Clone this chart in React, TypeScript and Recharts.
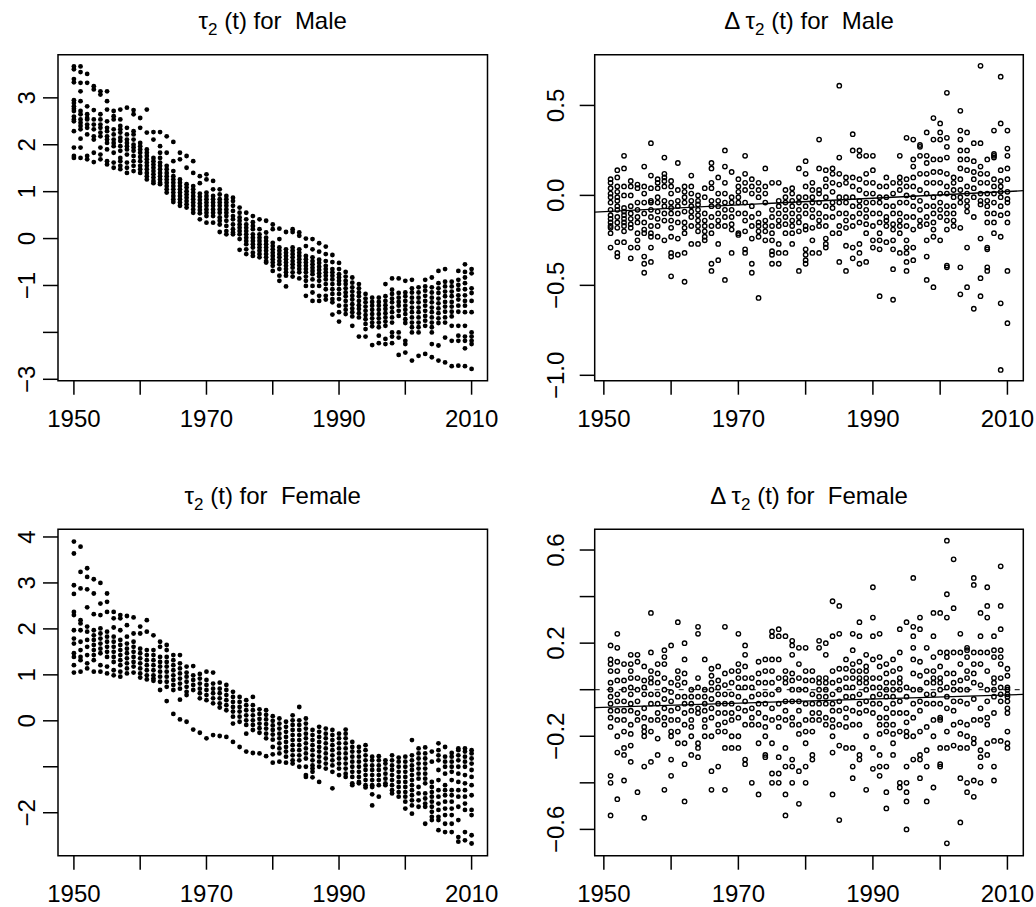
import React from 'react';
import { ScatterChart, Scatter, XAxis, YAxis, ReferenceArea, ReferenceLine } from 'recharts';

const FONT = '"Liberation Sans", Arial, Helvetica, sans-serif';
const W = 1036;
const H = 907;

const YEARS = [
  1950, 1951, 1952, 1953, 1954, 1955, 1956, 1957, 1958, 1959,
  1960, 1961, 1962, 1963, 1964, 1965, 1966, 1967, 1968, 1969,
  1970, 1971, 1972, 1973, 1974, 1975, 1976, 1977, 1978, 1979,
  1980, 1981, 1982, 1983, 1984, 1985, 1986, 1987, 1988, 1989,
  1990, 1991, 1992, 1993, 1994, 1995, 1996, 1997, 1998, 1999,
  2000, 2001, 2002, 2003, 2004, 2005, 2006, 2007, 2008, 2009, 2010,
];
const DIFF_YEARS = YEARS.slice(1);

const X_TICKS = [1950, 1960, 1970, 1980, 1990, 2000, 2010];
const X_LABELS = ['1950', '', '1970', '', '1990', '', '2010'];

const MALE_TAU_TICKS = [-3, -2, -1, 0, 1, 2, 3];
const MALE_TAU_LABELS = ['−3', '', '−1', '0', '1', '2', '3'];
const FEMALE_TAU_TICKS = [-2, -1, 0, 1, 2, 3, 4];
const FEMALE_TAU_LABELS = ['−2', '', '0', '1', '2', '3', '4'];
const MALE_DIFF_TICKS = [-1, -0.5, 0, 0.5];
const MALE_DIFF_LABELS = ['−1.0', '−0.5', '0.0', '0.5'];
const FEMALE_DIFF_TICKS = [-0.6, -0.4, -0.2, 0, 0.2, 0.4, 0.6];
const FEMALE_DIFF_LABELS = ['−0.6', '', '−0.2', '', '0.2', '', '0.6'];

// fitted trend lines (end points at the plot edges)
const TREND_X = [1948.64, 2012.36];
const MALE_TREND_Y = [-0.093, 0.026];
const FEMALE_TREND_Y = [-0.077, -0.02];

// tau_2(t), male, one row per year 1950..2010
const MALE_TAU = [
  [3.67, 3.61, 3.40, 3.33, 2.95, 2.89, 2.82, 2.77, 2.72, 2.60, 2.54, 2.50, 2.29, 1.94, 1.76, 1.72],
  [3.67, 3.55, 3.32, 3.14, 2.93, 2.72, 2.65, 2.54, 2.47, 2.40, 2.33, 2.13, 1.94, 1.72],
  [3.51, 3.32, 2.82, 2.65, 2.57, 2.54, 2.43, 2.36, 2.22, 1.76, 1.69],
  [3.25, 3.18, 2.74, 2.54, 2.43, 2.33, 2.18, 2.11, 1.83, 1.63],
  [3.14, 3.07, 2.65, 2.54, 2.43, 2.36, 2.26, 2.18, 1.94, 1.79, 1.69],
  [3.14, 2.93, 2.75, 2.50, 2.36, 2.29, 2.18, 2.11, 2.04, 1.90, 1.65, 1.58],
  [2.72, 2.61, 2.54, 2.33, 2.22, 2.11, 2.04, 1.97, 1.83, 1.62, 1.51],
  [2.75, 2.54, 2.40, 2.33, 2.26, 2.15, 2.08, 1.97, 1.87, 1.72, 1.65, 1.55, 1.48],
  [2.79, 2.36, 2.22, 2.11, 2.04, 1.97, 1.90, 1.79, 1.62, 1.51, 1.40],
  [2.74, 2.65, 2.29, 2.22, 2.11, 2.00, 1.94, 1.87, 1.76, 1.65, 1.55, 1.44],
  [2.57, 2.36, 2.04, 1.97, 1.90, 1.83, 1.74, 1.65, 1.55, 1.48, 1.40],
  [2.75, 2.26, 1.90, 1.83, 1.76, 1.69, 1.62, 1.55, 1.48, 1.40, 1.33, 1.26],
  [2.27, 2.11, 1.72, 1.65, 1.58, 1.51, 1.44, 1.37, 1.30, 1.23, 1.18],
  [2.27, 1.97, 1.83, 1.72, 1.62, 1.55, 1.48, 1.40, 1.33, 1.26, 1.19, 1.16],
  [2.18, 1.83, 1.55, 1.48, 1.40, 1.33, 1.26, 1.19, 1.12, 1.05, 0.98],
  [2.06, 1.65, 1.44, 1.33, 1.26, 1.19, 1.12, 1.05, 0.98, 0.91, 0.84, 0.78],
  [1.83, 1.69, 1.26, 1.19, 1.12, 1.05, 0.98, 0.91, 0.84, 0.77, 0.70],
  [1.76, 1.51, 1.16, 1.09, 1.01, 0.94, 0.87, 0.80, 0.73, 0.66],
  [1.65, 1.40, 1.12, 1.05, 0.98, 0.91, 0.84, 0.77, 0.70, 0.62, 0.55],
  [1.33, 1.18, 0.96, 0.89, 0.82, 0.75, 0.68, 0.61, 0.54, 0.41],
  [1.37, 1.26, 0.98, 0.91, 0.84, 0.77, 0.70, 0.62, 0.55, 0.48, 0.34],
  [1.23, 1.05, 0.91, 0.84, 0.77, 0.70, 0.62, 0.55, 0.48, 0.34],
  [1.05, 0.94, 0.84, 0.77, 0.70, 0.62, 0.55, 0.45, 0.38, 0.30, 0.14],
  [0.91, 0.84, 0.77, 0.70, 0.62, 0.55, 0.48, 0.38, 0.27, 0.16, 0.09],
  [0.87, 0.80, 0.70, 0.59, 0.48, 0.41, 0.30, 0.20, 0.13, 0.09],
  [0.66, 0.55, 0.45, 0.38, 0.30, 0.23, 0.16, 0.09, -0.01, -0.24],
  [0.55, 0.41, 0.30, 0.23, 0.16, 0.09, 0.02, -0.05, -0.12, -0.23, -0.33],
  [0.48, 0.35, 0.27, 0.20, 0.09, 0.02, -0.05, -0.12, -0.19, -0.30, -0.37],
  [0.41, 0.20, 0.09, 0.02, -0.05, -0.12, -0.19, -0.26, -0.33, -0.40],
  [0.38, 0.13, 0.02, -0.05, -0.12, -0.19, -0.26, -0.33, -0.40, -0.48, -0.51],
  [0.30, 0.20, -0.09, -0.16, -0.23, -0.30, -0.37, -0.44, -0.51, -0.58, -0.69],
  [0.21, -0.01, -0.19, -0.26, -0.33, -0.40, -0.48, -0.55, -0.65, -0.79, -0.90],
  [0.14, -0.23, -0.30, -0.37, -0.44, -0.51, -0.58, -0.65, -0.72, -0.79, -1.02],
  [0.20, 0.14, -0.19, -0.26, -0.33, -0.40, -0.48, -0.55, -0.62, -0.72, -0.81],
  [0.13, 0.06, -0.23, -0.30, -0.37, -0.44, -0.51, -0.58, -0.65, -0.72, -0.85],
  [0.00, -0.16, -0.37, -0.44, -0.51, -0.58, -0.65, -0.72, -0.81, -0.90, -1.01, -1.22],
  [-0.01, -0.23, -0.40, -0.48, -0.55, -0.62, -0.69, -0.76, -0.87, -1.01, -1.15, -1.33],
  [-0.10, -0.28, -0.45, -0.52, -0.60, -0.67, -0.74, -0.81, -0.90, -1.01, -1.22, -1.33],
  [-0.17, -0.33, -0.48, -0.58, -0.65, -0.72, -0.79, -0.87, -0.97, -1.08, -1.22, -1.30],
  [-0.35, -0.50, -0.65, -0.72, -0.79, -0.87, -0.97, -1.08, -1.18, -1.29, -1.36, -1.62],
  [-0.52, -0.65, -0.76, -0.83, -0.90, -0.97, -1.08, -1.18, -1.29, -1.43, -1.57, -1.77],
  [-0.71, -0.81, -0.90, -0.97, -1.06, -1.15, -1.23, -1.33, -1.43, -1.52, -1.61],
  [-0.83, -0.94, -1.04, -1.13, -1.22, -1.30, -1.40, -1.49, -1.57, -1.66, -1.86],
  [-0.97, -1.06, -1.15, -1.23, -1.33, -1.42, -1.50, -1.59, -1.68, -2.09],
  [-1.18, -1.28, -1.36, -1.45, -1.54, -1.63, -1.72, -1.82, -1.93, -2.09],
  [-1.26, -1.35, -1.43, -1.52, -1.61, -1.70, -1.79, -1.87, -2.27],
  [-1.26, -1.35, -1.43, -1.52, -1.61, -1.70, -1.79, -1.89, -2.07, -2.23],
  [-0.97, -1.23, -1.33, -1.42, -1.50, -1.59, -1.68, -1.77, -1.86, -2.14, -2.25],
  [-0.85, -1.09, -1.18, -1.28, -1.36, -1.47, -1.57, -1.68, -1.79, -2.00, -2.09, -2.23],
  [-0.85, -1.16, -1.26, -1.35, -1.43, -1.54, -1.65, -2.00, -2.11, -2.48],
  [-0.90, -1.15, -1.23, -1.33, -1.43, -1.52, -1.61, -1.72, -1.80, -2.18, -2.25, -2.43],
  [-0.88, -1.06, -1.15, -1.26, -1.36, -1.47, -1.57, -1.68, -1.79, -1.89, -2.00, -2.60],
  [-1.04, -1.15, -1.26, -1.36, -1.47, -1.57, -1.68, -1.79, -1.89, -2.00, -2.50],
  [-0.88, -1.02, -1.11, -1.22, -1.33, -1.43, -1.54, -1.65, -1.75, -1.86, -2.46],
  [-0.83, -1.04, -1.15, -1.26, -1.36, -1.47, -1.57, -1.68, -1.79, -1.89, -2.00, -2.25, -2.53],
  [-0.69, -0.95, -1.06, -1.16, -1.28, -1.38, -1.49, -1.59, -1.70, -1.80, -2.28, -2.60],
  [-0.65, -0.92, -1.02, -1.13, -1.23, -1.35, -1.45, -1.56, -1.68, -1.79, -2.11, -2.64],
  [-0.92, -1.02, -1.13, -1.23, -1.35, -1.45, -1.56, -1.66, -1.86, -2.18, -2.72],
  [-0.69, -0.88, -0.99, -1.09, -1.21, -1.30, -1.43, -1.56, -1.86, -2.07, -2.18, -2.71],
  [-0.55, -0.71, -0.83, -0.95, -1.08, -1.21, -1.33, -1.43, -1.57, -1.86, -2.09, -2.18, -2.34, -2.72],
  [-0.65, -0.74, -1.06, -1.16, -1.33, -1.57, -2.00, -2.09, -2.18, -2.25, -2.78],
];

// tau_2(t), female, one row per year 1950..2010
const FEMALE_TAU = [
  [3.90, 3.64, 2.95, 2.76, 2.37, 2.30, 1.97, 1.79, 1.68, 1.47, 1.39, 1.21, 1.05],
  [3.79, 3.24, 2.88, 2.19, 2.12, 1.97, 1.72, 1.54, 1.39, 1.32, 1.07],
  [3.32, 3.13, 2.86, 2.47, 2.05, 1.94, 1.76, 1.61, 1.43, 1.25, 1.14],
  [3.08, 2.77, 2.32, 1.97, 1.86, 1.76, 1.65, 1.54, 1.43, 1.32, 1.07],
  [3.00, 2.55, 2.30, 2.01, 1.90, 1.79, 1.68, 1.57, 1.47, 1.21, 1.07],
  [2.77, 2.59, 2.37, 1.94, 1.83, 1.72, 1.61, 1.50, 1.39, 1.18, 1.03],
  [2.37, 2.23, 2.03, 1.83, 1.72, 1.61, 1.50, 1.39, 1.28, 1.10, 0.99],
  [2.30, 2.23, 1.97, 1.76, 1.65, 1.54, 1.43, 1.32, 1.21, 1.07, 0.96],
  [2.28, 2.08, 1.83, 1.68, 1.57, 1.47, 1.36, 1.25, 1.14, 1.03],
  [2.25, 1.90, 1.72, 1.61, 1.50, 1.39, 1.28, 1.18, 1.05],
  [2.05, 1.90, 1.57, 1.47, 1.36, 1.25, 1.14, 1.03, 0.94],
  [2.19, 1.94, 1.54, 1.43, 1.32, 1.21, 1.10, 0.99, 0.90],
  [1.86, 1.54, 1.43, 1.32, 1.21, 1.10, 0.99, 0.92, 0.87],
  [1.72, 1.61, 1.39, 1.28, 1.18, 1.07, 0.96, 0.85, 0.67],
  [1.65, 1.54, 1.39, 1.28, 1.18, 1.07, 0.96, 0.85, 0.74, 0.43],
  [1.43, 1.32, 1.21, 1.10, 0.99, 0.89, 0.78, 0.67, 0.15],
  [1.43, 1.25, 1.14, 1.03, 0.92, 0.81, 0.70, 0.46, 0.03],
  [1.18, 1.05, 0.96, 0.85, 0.74, 0.63, 0.56, -0.02],
  [1.19, 0.99, 0.89, 0.78, 0.67, -0.19],
  [1.02, 0.92, 0.81, 0.70, 0.60, 0.49, -0.26],
  [1.07, 0.89, 0.78, 0.67, 0.56, 0.45, -0.38],
  [1.05, 0.81, 0.70, 0.60, 0.49, 0.38, -0.31],
  [0.83, 0.70, 0.60, 0.49, 0.38, 0.29, -0.33],
  [0.78, 0.67, 0.56, 0.45, 0.34, 0.23, -0.35],
  [0.63, 0.52, 0.41, 0.30, 0.20, 0.09, -0.06, -0.46],
  [0.52, 0.41, 0.30, 0.20, 0.09, -0.02, -0.57],
  [0.45, 0.34, 0.23, 0.12, 0.01, -0.09, -0.28, -0.67],
  [0.52, 0.34, 0.23, 0.12, 0.01, -0.09, -0.20, -0.70],
  [0.25, 0.15, 0.04, -0.06, -0.16, -0.26, -0.71],
  [0.23, 0.13, 0.03, -0.07, -0.17, -0.28, -0.38, -0.77],
  [0.10, 0.00, -0.10, -0.20, -0.30, -0.41, -0.57, -0.73, -0.91],
  [0.05, -0.06, -0.17, -0.28, -0.38, -0.49, -0.60, -0.71, -0.89],
  [-0.02, -0.13, -0.24, -0.35, -0.46, -0.57, -0.67, -0.78, -0.91],
  [0.12, 0.01, -0.09, -0.20, -0.31, -0.42, -0.53, -0.64, -0.75, -0.86, -0.93],
  [0.30, 0.01, -0.09, -0.20, -0.31, -0.42, -0.53, -0.64, -0.75, -0.86, -1.00],
  [0.05, -0.06, -0.17, -0.28, -0.38, -0.49, -0.60, -0.71, -0.82, -1.00, -1.18, -1.22],
  [-0.20, -0.31, -0.42, -0.53, -0.64, -0.75, -0.86, -0.97, -1.04, -1.11, -1.23],
  [-0.13, -0.24, -0.35, -0.46, -0.57, -0.67, -0.78, -0.89, -1.00, -1.33],
  [-0.17, -0.28, -0.38, -0.49, -0.60, -0.71, -0.82, -0.93, -1.04],
  [-0.20, -0.31, -0.42, -0.53, -0.64, -0.75, -0.86, -0.97, -1.11, -1.47],
  [-0.28, -0.38, -0.49, -0.60, -0.71, -0.82, -0.93, -1.04, -1.18],
  [-0.19, -0.28, -0.38, -0.49, -0.60, -0.71, -0.82, -0.93, -1.04, -1.15, -1.22],
  [-0.46, -0.57, -0.67, -0.78, -0.89, -1.00, -1.11, -1.22, -1.36, -1.40],
  [-0.57, -0.67, -0.78, -0.89, -1.00, -1.11, -1.22, -1.33, -1.36],
  [-0.53, -0.64, -0.75, -0.86, -0.97, -1.07, -1.18, -1.29, -1.40, -1.45],
  [-0.78, -0.86, -0.97, -1.07, -1.18, -1.29, -1.40, -1.44, -1.60, -1.84],
  [-0.77, -0.86, -0.97, -1.07, -1.18, -1.29, -1.40, -1.65],
  [-0.86, -0.93, -1.04, -1.15, -1.26, -1.36, -1.40],
  [-0.75, -0.86, -0.97, -1.07, -1.18, -1.29, -1.40, -1.51, -1.58],
  [-0.80, -0.89, -1.00, -1.11, -1.22, -1.33, -1.44, -1.55, -1.65],
  [-0.78, -0.89, -1.00, -1.11, -1.22, -1.33, -1.44, -1.55, -1.65, -1.76, -1.91],
  [-0.42, -0.75, -0.86, -0.97, -1.07, -1.18, -1.29, -1.40, -1.51, -1.62, -1.73, -1.84, -2.02],
  [-0.60, -0.71, -0.82, -0.93, -1.04, -1.15, -1.26, -1.44, -1.58, -1.73, -1.87],
  [-0.58, -0.71, -0.82, -0.93, -1.04, -1.15, -1.26, -1.36, -1.58, -1.69, -1.80, -1.87, -2.24],
  [-0.67, -0.89, -1.33, -1.44, -1.55, -1.65, -1.76, -1.87, -1.98, -2.09, -2.16],
  [-0.49, -0.64, -0.75, -0.86, -1.07, -1.29, -1.51, -1.65, -1.80, -1.94, -2.09, -2.16, -2.38],
  [-0.57, -0.78, -0.89, -1.00, -1.15, -1.40, -1.51, -1.62, -1.76, -1.91, -2.05, -2.24, -2.42],
  [-0.70, -0.78, -0.89, -1.00, -1.11, -1.29, -1.51, -1.62, -1.76, -1.91, -2.05, -2.24, -2.42],
  [-0.60, -0.64, -0.75, -0.86, -1.00, -1.15, -1.33, -1.51, -1.65, -1.87, -2.16, -2.53, -2.63],
  [-0.60, -0.67, -0.78, -0.89, -1.00, -1.18, -1.36, -1.51, -1.65, -1.80, -1.94, -2.42, -2.60],
  [-0.64, -0.71, -0.82, -0.93, -1.07, -1.22, -1.40, -1.62, -1.94, -2.05, -2.49, -2.67],
];

// delta tau_2(t), male, one row per year 1951..2010
const MALE_DIFF = [
  [0.09, 0.07, 0.04, 0.01, -0.01, -0.04, -0.08, -0.11, -0.13, -0.15, -0.17, -0.18, -0.21, -0.29],
  [0.14, 0.10, 0.05, 0.02, -0.01, -0.03, -0.06, -0.08, -0.12, -0.15, -0.18, -0.26, -0.32, -0.34],
  [0.22, 0.15, 0.05, 0.00, -0.07, -0.09, -0.11, -0.13, -0.15, -0.17, -0.20, -0.26],
  [0.08, 0.05, 0.00, -0.06, -0.10, -0.13, -0.16, -0.18, -0.29, -0.35],
  [0.06, 0.04, -0.04, -0.08, -0.12, -0.15, -0.21, -0.25, -0.29],
  [0.16, 0.05, 0.01, -0.04, -0.10, -0.15, -0.19, -0.21, -0.34, -0.38, -0.43],
  [0.29, 0.11, 0.04, -0.03, -0.04, -0.08, -0.12, -0.17, -0.21, -0.23, -0.29, -0.37],
  [0.09, 0.07, 0.04, -0.01, -0.04, -0.09, -0.13, -0.17, -0.23],
  [0.21, 0.12, 0.10, 0.08, 0.05, -0.03, -0.06, -0.10, -0.14, -0.25],
  [0.08, 0.05, 0.01, -0.04, -0.07, -0.10, -0.14, -0.18, -0.23, -0.32, -0.34, -0.45],
  [0.18, 0.03, -0.03, -0.06, -0.10, -0.15, -0.24, -0.33],
  [0.05, 0.02, -0.01, -0.04, -0.09, -0.15, -0.18, -0.21, -0.32, -0.48],
  [0.11, 0.05, 0.01, -0.03, -0.06, -0.09, -0.12, -0.17, -0.27],
  [0.00, -0.03, -0.05, -0.08, -0.11, -0.14, -0.17, -0.20, -0.27],
  [0.04, -0.01, -0.10, -0.14, -0.17, -0.20, -0.23, -0.25],
  [0.18, 0.15, 0.07, 0.04, -0.03, -0.06, -0.12, -0.17, -0.21, -0.38, -0.42],
  [0.10, 0.01, -0.03, -0.06, -0.10, -0.14, -0.17, -0.27, -0.36],
  [0.25, 0.16, 0.07, 0.01, -0.04, -0.08, -0.12, -0.17, -0.47],
  [0.13, -0.01, -0.04, -0.08, -0.12, -0.16, -0.19, -0.32],
  [0.09, 0.05, 0.02, -0.01, -0.04, -0.10, -0.21, -0.22],
  [0.22, 0.12, 0.07, 0.03, -0.04, -0.10, -0.14, -0.20, -0.30, -0.32],
  [0.09, 0.05, 0.01, -0.06, -0.12, -0.17, -0.24, -0.38, -0.43],
  [0.07, 0.03, -0.01, -0.10, -0.15, -0.17, -0.20, -0.23, -0.57],
  [0.15, 0.05, 0.01, -0.04, -0.14, -0.17, -0.20, -0.25],
  [0.07, -0.08, -0.12, -0.17, -0.21, -0.25, -0.31, -0.33, -0.38],
  [0.07, -0.03, -0.06, -0.10, -0.14, -0.17, -0.27, -0.32, -0.38],
  [0.03, -0.01, -0.04, -0.08, -0.12, -0.16, -0.21, -0.32],
  [0.04, 0.01, -0.03, -0.06, -0.10, -0.14, -0.17, -0.21, -0.27],
  [0.15, -0.01, -0.04, -0.08, -0.12, -0.15, -0.20, -0.42],
  [0.19, 0.12, 0.05, -0.01, -0.06, -0.10, -0.17, -0.19, -0.30, -0.33, -0.36, -0.38],
  [0.07, 0.03, -0.01, -0.04, -0.08, -0.12, -0.18, -0.25, -0.32],
  [0.31, 0.15, 0.03, 0.01, -0.04, -0.10, -0.14, -0.17, -0.32],
  [0.14, 0.09, 0.05, -0.01, -0.06, -0.12, -0.17, -0.24, -0.27, -0.29],
  [0.15, 0.12, 0.07, 0.02, -0.04, -0.07, -0.12, -0.21],
  [0.61, 0.21, 0.12, 0.06, -0.01, -0.04, -0.10, -0.17, -0.21, -0.37],
  [0.10, 0.07, -0.01, -0.04, -0.10, -0.14, -0.18, -0.28, -0.42],
  [0.34, 0.25, 0.10, 0.05, -0.01, -0.06, -0.12, -0.17, -0.29, -0.35],
  [0.25, 0.22, 0.09, 0.03, -0.03, -0.06, -0.10, -0.15, -0.27, -0.32, -0.38],
  [0.22, 0.12, 0.07, 0.01, -0.04, -0.08, -0.12, -0.16, -0.21, -0.37],
  [0.22, 0.14, 0.07, 0.01, -0.04, -0.10, -0.17, -0.25, -0.29],
  [0.05, -0.01, -0.04, -0.10, -0.15, -0.21, -0.25, -0.30, -0.56],
  [0.10, 0.05, -0.01, -0.06, -0.12, -0.14, -0.17, -0.26],
  [0.07, 0.01, -0.06, -0.10, -0.16, -0.19, -0.25, -0.30, -0.41, -0.58],
  [0.22, 0.10, 0.07, 0.03, -0.04, -0.10, -0.14, -0.17, -0.21, -0.32],
  [0.32, 0.09, 0.05, 0.00, -0.04, -0.12, -0.17, -0.25, -0.29, -0.32, -0.37, -0.42],
  [0.31, 0.20, 0.16, 0.10, 0.05, -0.01, -0.06, -0.12, -0.19, -0.29, -0.36],
  [0.28, 0.27, 0.22, 0.12, 0.03, -0.03, -0.08, -0.14, -0.17],
  [0.35, 0.22, 0.18, 0.12, 0.07, 0.01, -0.06, -0.12, -0.16, -0.25, -0.34, -0.47],
  [0.43, 0.31, 0.20, 0.13, 0.07, -0.01, -0.06, -0.10, -0.15, -0.19, -0.23, -0.51],
  [0.40, 0.35, 0.31, 0.20, 0.13, 0.07, 0.01, -0.04, -0.08, -0.12, -0.25],
  [0.57, 0.32, 0.27, 0.21, 0.12, 0.05, 0.01, -0.06, -0.10, -0.14, -0.19, -0.39, -0.40],
  [0.10, 0.07, 0.03, -0.01, -0.06, -0.10, -0.14, -0.17],
  [0.47, 0.36, 0.31, 0.25, 0.20, 0.15, 0.09, 0.03, -0.01, -0.04, -0.18, -0.40, -0.55],
  [0.35, 0.25, 0.20, 0.14, 0.05, 0.01, -0.03, -0.06, -0.09, -0.29, -0.51],
  [0.29, 0.19, 0.13, 0.09, 0.04, -0.01, -0.12, -0.63],
  [0.72, 0.29, 0.16, 0.12, 0.07, 0.01, -0.03, -0.05, -0.24, -0.46, -0.56],
  [0.20, 0.12, 0.07, 0.01, -0.03, -0.06, -0.10, -0.15, -0.29, -0.30, -0.40, -0.42],
  [0.36, 0.23, 0.22, 0.21, 0.09, 0.05, 0.01, -0.04, -0.10, -0.15, -0.21],
  [0.66, 0.40, 0.14, 0.08, 0.05, 0.02, -0.01, -0.06, -0.11, -0.23, -0.60, -0.97],
  [0.36, 0.26, 0.22, 0.15, 0.09, 0.02, -0.02, -0.04, -0.10, -0.15, -0.42, -0.71],
];

// delta tau_2(t), female, one row per year 1951..2010
const FEMALE_DIFF = [
  [0.19, 0.13, 0.11, 0.08, 0.03, 0.00, -0.03, -0.06, -0.09, -0.12, -0.16, -0.37, -0.40, -0.54],
  [0.24, 0.18, 0.12, 0.08, 0.04, -0.02, -0.05, -0.09, -0.13, -0.20, -0.27, -0.47],
  [0.11, 0.04, 0.00, -0.05, -0.09, -0.13, -0.18, -0.25, -0.28, -0.39],
  [0.15, 0.11, 0.08, 0.05, 0.01, -0.02, -0.06, -0.09, -0.15, -0.19, -0.24, -0.31],
  [0.15, 0.12, 0.05, 0.00, -0.05, -0.10, -0.13, -0.44],
  [0.10, 0.04, 0.01, -0.02, -0.08, -0.12, -0.16, -0.18, -0.20, -0.33, -0.55],
  [0.33, 0.16, 0.08, 0.05, 0.03, -0.02, -0.06, -0.13, -0.18, -0.31],
  [0.11, 0.07, 0.03, -0.02, -0.06, -0.10, -0.13, -0.21, -0.28],
  [0.17, 0.14, 0.11, 0.05, 0.00, -0.04, -0.08, -0.12, -0.15, -0.43],
  [0.19, 0.03, -0.01, -0.05, -0.09, -0.13, -0.18, -0.20, -0.30, -0.37],
  [0.29, 0.08, 0.05, 0.02, -0.03, -0.08, -0.13, -0.18, -0.23],
  [0.20, 0.13, 0.07, 0.03, -0.03, -0.06, -0.10, -0.15, -0.23, -0.32, -0.48],
  [0.00, -0.03, -0.06, -0.09, -0.13, -0.16, -0.20, -0.28],
  [0.27, 0.24, 0.05, 0.01, -0.03, -0.08, -0.10, -0.23, -0.25, -0.29],
  [0.13, 0.00, -0.03, -0.06, -0.09, -0.13, -0.16, -0.20],
  [0.09, 0.06, 0.03, 0.00, -0.04, -0.08, -0.12, -0.20, -0.35, -0.43],
  [0.10, 0.04, 0.01, -0.02, -0.06, -0.10, -0.15, -0.18, -0.33],
  [0.27, 0.07, 0.02, -0.02, -0.06, -0.10, -0.14, -0.18, -0.25, -0.43],
  [0.08, 0.03, -0.02, -0.06, -0.10, -0.13, -0.20, -0.25],
  [0.24, 0.11, 0.08, 0.05, 0.01, -0.03, -0.08, -0.12, -0.20, -0.25],
  [0.19, 0.15, 0.10, 0.05, 0.01, -0.05, -0.09, -0.15, -0.30, -0.32],
  [0.05, 0.01, -0.03, -0.08, -0.12, -0.15, -0.40],
  [0.12, 0.07, 0.03, -0.02, -0.06, -0.10, -0.15, -0.23, -0.45],
  [0.13, 0.08, 0.03, -0.02, -0.06, -0.12, -0.16, -0.20, -0.28, -0.29],
  [0.25, 0.23, 0.13, 0.08, 0.03, -0.02, -0.08, -0.13, -0.23, -0.36, -0.40],
  [0.26, 0.23, 0.13, 0.05, 0.00, -0.06, -0.12, -0.16, -0.29, -0.36, -0.40],
  [0.23, 0.08, 0.05, 0.03, -0.05, -0.09, -0.13, -0.25, -0.33, -0.45, -0.54],
  [0.21, 0.19, 0.15, 0.07, 0.04, 0.00, -0.05, -0.12, -0.15, -0.30, -0.33, -0.40],
  [0.18, 0.11, 0.05, 0.00, -0.05, -0.09, -0.15, -0.19, -0.35, -0.49],
  [0.18, 0.08, 0.04, 0.00, -0.06, -0.13, -0.18, -0.23, -0.33, -0.40],
  [0.08, 0.04, -0.02, -0.06, -0.10, -0.13, -0.18, -0.28, -0.30],
  [0.21, 0.18, 0.05, 0.03, 0.00, -0.03, -0.06, -0.10, -0.13],
  [0.20, 0.15, 0.05, 0.03, 0.00, -0.03, -0.06, -0.12, -0.15],
  [0.38, 0.23, 0.08, 0.03, -0.02, -0.06, -0.09, -0.13, -0.16, -0.20, -0.27, -0.45],
  [0.36, 0.24, 0.09, 0.04, 0.00, -0.05, -0.09, -0.15, -0.24, -0.56],
  [0.13, 0.09, 0.05, 0.01, -0.03, -0.08, -0.12, -0.16, -0.25],
  [0.24, 0.17, 0.11, 0.08, 0.05, 0.01, -0.03, -0.09, -0.15, -0.25, -0.33, -0.38],
  [0.29, 0.23, 0.12, 0.08, 0.05, 0.03, -0.02, -0.06, -0.10, -0.15, -0.28, -0.30],
  [0.15, 0.10, 0.08, 0.05, 0.03, 0.00, -0.05, -0.09, -0.20, -0.43],
  [0.44, 0.31, 0.23, 0.13, 0.05, 0.01, -0.03, -0.06, -0.10, -0.25, -0.34],
  [0.24, 0.14, 0.10, 0.05, 0.01, -0.02, -0.06, -0.12, -0.15, -0.19, -0.28, -0.33, -0.37],
  [0.11, 0.07, 0.03, 0.00, -0.03, -0.08, -0.12, -0.15, -0.18, -0.33, -0.44, -0.51],
  [0.13, 0.08, 0.03, 0.00, -0.03, -0.06, -0.10, -0.15, -0.19, -0.23, -0.28],
  [0.26, 0.16, 0.09, 0.05, 0.03, 0.00, -0.05, -0.10, -0.18, -0.40, -0.42],
  [0.29, 0.01, -0.03, -0.10, -0.14, -0.18, -0.20, -0.33, -0.40, -0.44, -0.48, -0.60],
  [0.48, 0.27, 0.23, 0.18, 0.13, 0.07, 0.00, -0.06, -0.12, -0.20, -0.30],
  [0.31, 0.26, 0.12, 0.06, 0.00, -0.05, -0.09, -0.18, -0.28, -0.30, -0.38],
  [0.18, 0.08, 0.03, -0.02, -0.06, -0.16, -0.26, -0.33, -0.48],
  [0.33, 0.23, 0.14, 0.08, 0.05, 0.03, -0.02, -0.06, -0.13, -0.20, -0.42],
  [0.33, 0.16, 0.10, 0.05, 0.03, 0.00, -0.06, -0.12, -0.13, -0.25, -0.32, -0.33],
  [0.64, 0.41, 0.31, 0.16, 0.14, 0.07, 0.01, -0.03, -0.08, -0.18, -0.25, -0.66],
  [0.56, 0.35, 0.16, 0.07, 0.03, 0.00, -0.05, -0.09, -0.15, -0.24],
  [0.24, 0.16, 0.11, 0.04, 0.00, -0.05, -0.14, -0.19, -0.25, -0.38, -0.57],
  [0.18, 0.17, 0.14, 0.08, 0.05, 0.00, -0.06, -0.15, -0.20, -0.25, -0.40, -0.44],
  [0.48, 0.45, 0.16, 0.11, 0.07, 0.03, -0.04, -0.13, -0.21, -0.23, -0.39, -0.46],
  [0.33, 0.23, 0.16, 0.11, 0.02, -0.08, -0.13, -0.26, -0.29, -0.33, -0.40],
  [0.44, 0.36, 0.31, 0.16, 0.08, 0.00, -0.05, -0.12, -0.15, -0.23, -0.28],
  [0.23, 0.17, 0.14, 0.05, 0.03, 0.00, -0.03, -0.10, -0.22, -0.33, -0.39],
  [0.53, 0.36, 0.26, 0.17, 0.14, 0.11, 0.05, 0.01, -0.02, -0.05, -0.22],
  [0.09, 0.06, 0.01, 0.00, -0.02, -0.03, -0.05, -0.08, -0.10, -0.18, -0.23, -0.25],
];

type Pt = { x: number; y: number };

function toPoints(years: number[], rows: number[][]): Pt[] {
  return rows.flatMap((vals, i) => vals.map((v) => ({ x: years[i], y: v })));
}

const FilledDot = (p: any) => <circle cx={p.cx} cy={p.cy} r={2.4} fill="#000" />;
const OpenDot = (p: any) => (
  <circle cx={p.cx} cy={p.cy} r={2.2} fill="none" stroke="#000" strokeWidth={1.4} />
);

interface Box {
  left: number;
  top: number;
  right: number;
  bottom: number;
}

interface PanelProps {
  box: Box;
  xDomain: [number, number];
  yDomain: [number, number];
  yTicks: number[];
  yLabels: string[];
  labelShift: number;
  points: Pt[];
  open?: boolean;
  trendY?: number[];
  zeroLine?: boolean;
}

function Panel({ box, xDomain, yDomain, yTicks, yLabels, labelShift, points, open, trendY, zeroLine }: PanelProps) {
  const tickLine = { stroke: '#000', strokeWidth: 1.5 };

  const renderXTick = (p: any) => {
    const i = X_TICKS.findIndex((t) => Math.abs(t - p.payload.value) < 1e-6);
    const label = X_LABELS[i];
    if (!label) return <g />;
    return (
      <text x={p.x} y={p.y + 30} textAnchor="middle" fontSize={24} fontFamily={FONT} fill="#000">
        {label}
      </text>
    );
  };

  const renderYTick = (p: any) => {
    const i = yTicks.findIndex((t) => Math.abs(t - p.payload.value) < 1e-6);
    const label = yLabels[i];
    if (!label) return <g />;
    const bx = p.x - labelShift;
    return (
      <text
        x={bx}
        y={p.y}
        transform={`rotate(-90 ${bx} ${p.y})`}
        textAnchor="middle"
        fontSize={24}
        fontFamily={FONT}
        fill="#000"
      >
        {label}
      </text>
    );
  };

  return (
    <div style={{ position: 'absolute', left: 0, top: 0 }}>
      <ScatterChart
        width={W}
        height={H}
        margin={{ top: box.top, right: W - box.right, bottom: H - box.bottom - 40, left: box.left - 60 }}
      >
        <XAxis
          type="number"
          dataKey="x"
          domain={xDomain}
          ticks={X_TICKS}
          interval={0}
          allowDataOverflow
          axisLine={false}
          tickLine={tickLine}
          tickSize={14}
          height={40}
          tick={renderXTick}
        />
        <YAxis
          type="number"
          dataKey="y"
          domain={yDomain}
          ticks={yTicks}
          interval={0}
          allowDataOverflow
          axisLine={false}
          tickLine={tickLine}
          tickSize={15}
          width={60}
          tick={renderYTick}
        />
        <ReferenceArea
          x1={xDomain[0]}
          x2={xDomain[1]}
          y1={yDomain[0]}
          y2={yDomain[1]}
          fill="none"
          stroke="#000"
          strokeWidth={1.5}
          ifOverflow="visible"
        />
        {zeroLine && (
          <ReferenceLine y={0} stroke="#000" strokeWidth={1} strokeDasharray="5 7" />
        )}
        {trendY && (
          <ReferenceLine
            segment={[
              { x: TREND_X[0], y: trendY[0] },
              { x: TREND_X[1], y: trendY[1] },
            ]}
            stroke="#000"
            strokeWidth={1.3}
            ifOverflow="visible"
          />
        )}
        <Scatter data={points} isAnimationActive={false} shape={open ? OpenDot : FilledDot} />
      </ScatterChart>
    </div>
  );
}

function Title({ cx, y, delta, sex }: { cx: number; y: number; delta: boolean; sex: string }) {
  return (
    <text x={cx} y={y} textAnchor="middle" fontSize={24} fontFamily={FONT} fill="#000" style={{ whiteSpace: 'pre' }}>
      {delta ? 'Δ τ' : 'τ'}
      <tspan dy={6} fontSize={17}>2</tspan>
      <tspan dy={-6}>{` (t) for  ${sex}`}</tspan>
    </text>
  );
}

const LEFT_TOP: Box = { left: 58, top: 54.7, right: 487.5, bottom: 380.7 };
const RIGHT_TOP: Box = { left: 594.7, top: 54.7, right: 1023.3, bottom: 380.7 };
const LEFT_BOTTOM: Box = { left: 58, top: 529.3, right: 487.5, bottom: 855.7 };
const RIGHT_BOTTOM: Box = { left: 594.7, top: 529.3, right: 1023.3, bottom: 855.7 };

export default function App() {
  const maleTau = toPoints(YEARS, MALE_TAU);
  const femaleTau = toPoints(YEARS, FEMALE_TAU);
  const maleDiff = toPoints(DIFF_YEARS, MALE_DIFF);
  const femaleDiff = toPoints(DIFF_YEARS, FEMALE_DIFF);

  return (
    <div style={{ position: 'absolute', left: 0, top: 0, width: W, height: H, background: '#fff', overflow: 'hidden' }}>
      <Panel
        box={LEFT_TOP}
        xDomain={[1947.6, 2012.4]}
        yDomain={[-3.03, 3.92]}
        yTicks={MALE_TAU_TICKS}
        yLabels={MALE_TAU_LABELS}
        labelShift={6}
        points={maleTau}
      />
      <Panel
        box={RIGHT_TOP}
        xDomain={[1948.64, 2012.36]}
        yDomain={[-1.03, 0.782]}
        yTicks={MALE_DIFF_TICKS}
        yLabels={MALE_DIFF_LABELS}
        labelShift={14}
        points={maleDiff}
        open
        trendY={MALE_TREND_Y}
      />
      <Panel
        box={LEFT_BOTTOM}
        xDomain={[1947.6, 2012.4]}
        yDomain={[-2.935, 4.167]}
        yTicks={FEMALE_TAU_TICKS}
        yLabels={FEMALE_TAU_LABELS}
        labelShift={6}
        points={femaleTau}
      />
      <Panel
        box={RIGHT_BOTTOM}
        xDomain={[1948.64, 2012.36]}
        yDomain={[-0.713, 0.689]}
        yTicks={FEMALE_DIFF_TICKS}
        yLabels={FEMALE_DIFF_LABELS}
        labelShift={14}
        points={femaleDiff}
        open
        trendY={FEMALE_TREND_Y}
        zeroLine
      />
      <svg width={W} height={H} style={{ position: 'absolute', left: 0, top: 0, pointerEvents: 'none' }}>
        <Title cx={272.75} y={29} delta={false} sex="Male" />
        <Title cx={809} y={29} delta sex="Male" />
        <Title cx={272.75} y={503.5} delta={false} sex="Female" />
        <Title cx={809} y={503.5} delta sex="Female" />
      </svg>
    </div>
  );
}
